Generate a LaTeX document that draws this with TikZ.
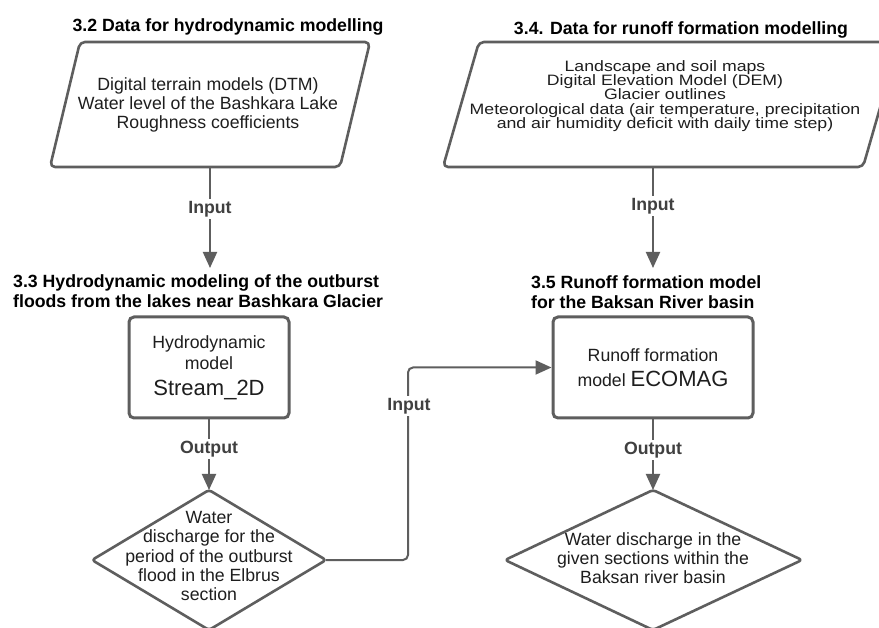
\documentclass[tikz,border=0pt]{standalone}
\usepackage{fontspec}
\setmainfont{Liberation Sans}
\usetikzlibrary{arrows.meta}
\definecolor{linegray}{HTML}{5E5E5E}
\definecolor{txt}{HTML}{1E1E1E}
\begin{document}
\begin{tikzpicture}[x=1pt,y=-1pt,
  body/.style={font=\fontsize{17.7}{19.2}\selectfont, text=txt, align=center, inner sep=0pt},
  ttl/.style={font=\fontsize{17.7}{19.5}\bfseries\selectfont, text=black, align=left, inner sep=0pt},
  lbl/.style={font=\fontsize{17.7}{19}\bfseries\selectfont, text=txt!85!white, fill=white, inner sep=2pt},
  shapeline/.style={draw=linegray, line width=2.6pt, rounded corners=5pt, line join=round},
  boxnode/.style={draw=linegray, line width=3pt, rounded corners=5pt, minimum height=101pt,
     font=\fontsize{17.7}{21}\selectfont, text=txt, align=center, inner sep=0pt},
  conn/.style={draw=linegray, line width=2pt},
  arr/.style={conn, -{Triangle[length=16pt,width=14pt]}},
]
\clip (0,0) rectangle (879,628);
\fill[white] (0,0) rectangle (879,628);

% ---------- titles ----------
\node[ttl, anchor=base] (t32) at (228,32) {3.2 Data for hydrodynamic modelling};
\node[ttl, anchor=base] (t34) at (681,35) {3.4. Data for runoff formation modelling};
\node[ttl, anchor=west] (t33) at (13,291) {3.3 Hydrodynamic modeling of the outburst\\floods from the lakes near Bashkara Glacier};
\node[ttl, anchor=west, font=\fontsize{17.7}{20}\bfseries\selectfont] (t35) at (531,292.5) {3.5 Runoff formation model\\for the Baksan River basin};

% ---------- data parallelograms ----------
\draw[shapeline] (80,42) -- (370,42) -- (340,167) -- (50,167) -- cycle;
\node[body, font=\fontsize{17.7}{18.6}\selectfont] (p1) at (208,105) {Digital terrain models (DTM)\\Water level of the Bashkara Lake\\Roughness coefficients};
\coordinate (p1bot) at (210,167);

\draw[shapeline] (479,42) -- (899,42) -- (863,167) -- (443,167) -- cycle;
\begin{scope}[shift={(665,96)}]
\node[body, yscale=0.85, transform shape, font=\fontsize{17.7}{16.8}\selectfont] (p2) at (0,0) {Landscape and soil maps\\Digital Elevation Model (DEM)\\Glacier outlines\\Meteorological data (air temperature, precipitation\\and air humidity deficit with daily time step)};
\end{scope}
\coordinate (p2bot) at (653,167);

% ---------- model boxes ----------
\node[boxnode, minimum width=160pt] (lb) at (209,367.5) {Hydrodynamic\\model\\[5pt]{\fontsize{22}{24}\selectfont Stream\_2D}};
\node[boxnode, minimum width=200pt] (rb) at (653,367.5) {Runoff formation\\[4pt]model {\fontsize{22}{24}\selectfont ECOMAG}};

% ---------- result diamonds ----------
\coordinate (ldT) at (209,490);
\coordinate (ldR) at (326,560);
\coordinate (ldB) at (209,630);
\coordinate (ldL) at (92,560);
\draw[shapeline, rounded corners=3pt] (ldT) -- (ldR) -- (ldB) -- (ldL) -- cycle;
\node[body] (ld) at (209,556) {Water\\discharge for the\\period of the outburst\\flood in the Elbrus\\section};

\coordinate (rdT) at (653,490);
\coordinate (rdR) at (802,560);
\coordinate (rdB) at (653,630);
\coordinate (rdL) at (505,560);
\draw[shapeline, rounded corners=3pt] (rdT) -- (rdR) -- (rdB) -- (rdL) -- cycle;
\node[body, font=\fontsize{17.7}{19}\selectfont] (rd) at (653,558.5) {Water discharge in the\\given sections within the\\Baksan river basin};

% ---------- connectors ----------
\coordinate (a1end) at (210,268);
\coordinate (a2end) at (653,268);
\coordinate (bend) at (408,560);
\draw[arr] (p1bot) -- (a1end);
\draw[arr] (p2bot) -- (a2end);
\draw[arr] (lb.south) -- (ldT);
\draw[arr] (rb.south) -- (rdT);
\draw[arr, rounded corners=5pt] (ldR) -- (bend) |- (rb.west);

% ---------- connector labels ----------
\node[lbl] (in1) at (210,209) {Input};
\node[lbl] (in2) at (653,206) {Input};
\node[lbl] (out1) at (209,449) {Output};
\node[lbl] (out2) at (653,450) {Output};
\node[lbl] (in3) at (409,406) {Input};
\end{tikzpicture}
\end{document}
